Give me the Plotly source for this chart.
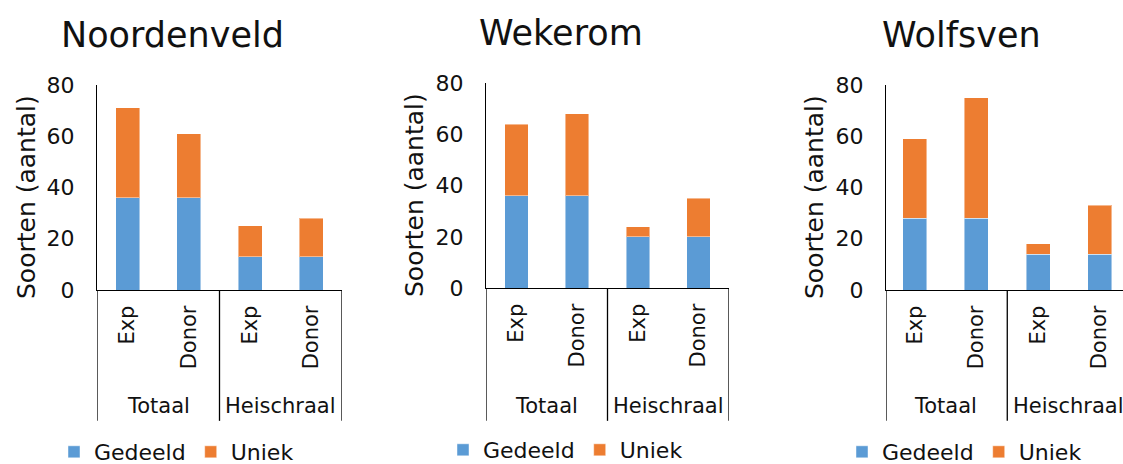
import plotly.graph_objects as go

sites = ["Noordenveld", "Wekerom", "Wolfsven"]
groups = ["Totaal", "Heischraal"]
types = ["Exp", "Donor", "Exp", "Donor"]
# shared (Gedeeld) and total heights per site, order as in 'types'
gedeeld = {
    "Noordenveld": [36, 36, 13, 13],
    "Wekerom": [36, 36, 20, 20],
    "Wolfsven": [28, 28, 14, 14],
}
totaal = {
    "Noordenveld": [71, 61, 25, 28],
    "Wekerom": [64, 68, 24, 35],
    "Wolfsven": [59, 75, 18, 33],
}
uniek = {s: [t - g for t, g in zip(totaal[s], gedeeld[s])] for s in sites}

BLUE = "#5B9BD5"
ORANGE = "#ED7D31"
FONT = "DejaVu Sans"
TXT = "#111111"
W, H = 1123, 464

xdom = [(97 / W, 342 / W), (486 / W, 729 / W), (886 / W, 1.0)]
ydom = [(0.375, 0.817), (0.379, 0.821), (0.375, 0.817)]
xranges = [[-0.5, 3.5], [-0.5, 3.5], [-0.47, 3.38]]
title_x = [172, 561, 961]
title_y = [35, 33, 35]
ytitle_x = [27, 415, 815]
ytitle_y = [197, 195, 197]
legend_x = [54, 443, 842]
legend_y = [452, 450, 452]

fig = go.Figure()
xs = list(range(len(types)))
for i, s in enumerate(sites):
    n = "" if i == 0 else str(i + 1)
    lg = "legend" + n
    fig.add_trace(go.Bar(x=xs, y=gedeeld[s], name="Gedeeld", marker_color=BLUE,
                         marker_line=dict(color="rgba(255,255,255,0.45)", width=1),
                         xaxis="x" + n, yaxis="y" + n, legend=lg))
    fig.add_trace(go.Bar(x=xs, y=uniek[s], name="Uniek", marker_color=ORANGE,
                         marker_line=dict(color="rgba(255,255,255,0.45)", width=1),
                         xaxis="x" + n, yaxis="y" + n, legend=lg))
    fig.layout["xaxis" + n] = dict(
        domain=xdom[i], range=xranges[i], anchor="y" + n,
        tickvals=xs, ticktext=types, tickangle=-90,
        showline=True, linecolor="black", linewidth=1.3, showgrid=False,
        zeroline=False, ticks="", ticklabelstandoff=6,
        tickfont=dict(size=21, family=FONT, color=TXT), fixedrange=True)
    fig.layout["yaxis" + n] = dict(
        domain=ydom[i], range=[0, 80], anchor="x" + n, dtick=20,
        showline=True, linecolor="black", linewidth=1.3, showgrid=False,
        zeroline=False, ticks="", ticklabelstandoff=17,
        tickfont=dict(size=22, family=FONT, color=TXT), fixedrange=True)
    fig.layout[lg] = dict(orientation="h", x=legend_x[i] / W, xanchor="left",
                          y=(H - legend_y[i]) / H, yanchor="middle",
                          bgcolor="rgba(0,0,0,0)", traceorder="normal",
                          font=dict(size=22, family=FONT, color=TXT))
    # dividers of the grouped category axis
    y0 = ydom[i][0]
    for xv in [-0.5, 1.5, 3.5]:
        xv = max(xv, xranges[i][0])
        if xv <= xranges[i][1]:
            fig.add_shape(type="line", xref="x" + n, yref="paper",
                          x0=xv, x1=xv, y0=y0, y1=0.093,
                          line=dict(color="black", width=1.3))
    # group labels
    for gx, gname in [(0.5, groups[0]), (2.5, groups[1])]:
        fig.add_annotation(x=gx, xref="x" + n, y=(H - 406) / H, yref="paper",
                           text=gname, showarrow=False, xanchor="center",
                           yanchor="middle",
                           font=dict(size=21, family=FONT, color=TXT))
    # panel title
    fig.add_annotation(x=title_x[i] / W, xref="paper", y=(H - title_y[i]) / H,
                       yref="paper", text=s, showarrow=False, xanchor="center",
                       yanchor="middle",
                       font=dict(size=35, family=FONT, color=TXT))
    # y-axis title
    fig.add_annotation(x=ytitle_x[i] / W, xref="paper", y=(H - ytitle_y[i]) / H,
                       yref="paper", text="Soorten (aantal)", textangle=-90,
                       xanchor="center", yanchor="middle",
                       showarrow=False, font=dict(size=25, family=FONT, color=TXT))

fig.update_layout(barmode="stack", bargap=0.61, width=W, height=H,
                  margin=dict(l=0, r=0, t=0, b=0, autoexpand=False),
                  paper_bgcolor="white", plot_bgcolor="white")

fig.write_html("out.html", config={"displayModeBar": False},
               post_script="document.body.style.margin='0px';")
